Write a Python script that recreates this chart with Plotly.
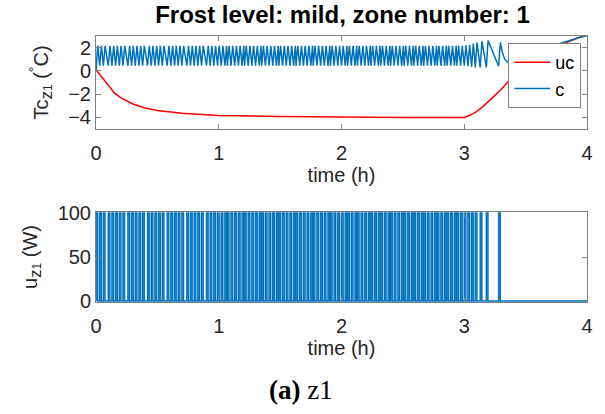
import plotly.graph_objects as go

# ---------------- data ----------------
# heater switch-on times (h) of controlled zone
pulse_on = [0.00, 0.03, 0.06, 0.10, 0.13, 0.16, 0.19, 0.22, 0.26, 0.29, 0.32, 0.35, 0.38, 0.42, 0.45, 0.48,
            0.51, 0.54, 0.58, 0.61, 0.64, 0.67, 0.70, 0.74, 0.77, 0.80, 0.83, 0.86, 0.90, 0.93, 0.96, 0.99,
            1.02, 1.05, 1.07, 1.10, 1.13, 1.16, 1.19, 1.21, 1.24, 1.27, 1.30, 1.33, 1.35, 1.38, 1.41, 1.44,
            1.47, 1.49, 1.52, 1.55, 1.58, 1.61, 1.63, 1.66, 1.69, 1.72, 1.75, 1.77, 1.80, 1.83, 1.86, 1.89,
            1.91, 1.94, 1.97, 2.00, 2.03, 2.05, 2.08, 2.11, 2.13, 2.16, 2.19, 2.22, 2.24, 2.27, 2.30, 2.32,
            2.35, 2.38, 2.40, 2.43, 2.46, 2.49, 2.51, 2.54, 2.57, 2.59, 2.62, 2.65, 2.67, 2.70, 2.73, 2.76,
            2.78, 2.81, 2.84, 2.86, 2.89, 2.92, 2.94, 2.97, 3.00, 3.03, 3.06, 3.09, 3.13, 3.18, 3.28]
pulse_width = 0.013          # h, heater on-time per pulse
u_on = 100                   # W

# controlled temperature: trough at each switch-on, peak shortly after
c_rise = 0.014
c_trough = [0.0] + [0.45] * 103 + [0.45, 0.40, 0.35, 0.30, 0.30, 0.30, 0.40]
c_peak = [2.2] + [2.15] * 103 + [2.20, 2.25, 2.35, 2.45, 2.55, 2.60, 2.45]
c_tail_t = [3.31, 3.33, 3.36, 3.40, 3.45, 3.55, 3.65, 3.75, 3.85, 3.93, 4.00]
c_tail_v = [1.60, 1.00, 0.70, 0.60, 0.80, 1.35, 1.85, 2.25, 2.60, 2.85, 3.05]

# uncontrolled temperature
uc_t = [0, 0.05, 0.1, 0.15, 0.2, 0.3, 0.4, 0.5, 0.7, 1.0, 1.5, 2.0, 2.5, 3.0,
        3.05, 3.1, 3.15, 3.2, 3.25, 3.3, 3.36, 3.45, 3.55, 3.65, 3.75, 3.85, 3.93, 4.0]
uc_v = [0.1, -0.6, -1.3, -1.9, -2.3, -2.85, -3.2, -3.4, -3.65, -3.83, -3.93, -3.98, -4.0, -4.0,
        -3.8, -3.5, -3.1, -2.6, -2.1, -1.6, -0.9, 0.0, 0.8, 1.5, 2.1, 2.55, 2.85, 3.05]

x_ticks = [0, 1, 2, 3, 4]
title_text = "Frost level: mild, zone number: 1"

# ---------------- build traces ----------------
c_x, c_y = [], []
for t, lo, hi in zip(pulse_on, c_trough, c_peak):
    c_x += [t, t + c_rise]
    c_y += [lo, hi]
c_x += c_tail_t
c_y += c_tail_v

u_x, u_y = [], []
for t in pulse_on:
    u_x += [t, t, t + pulse_width, t + pulse_width]
    u_y += [0, u_on, u_on, 0]
u_x += [4]
u_y += [0]

RED = "#FF0000"
BLUE = "#0072BD"
FONT = "Liberation Sans, Arial, sans-serif"
AX = "#808080"
TXT = "#262626"
FS = 20

fig = go.Figure()
fig.add_trace(go.Scatter(x=uc_t, y=uc_v, mode="lines", name="uc",
                         line=dict(color=RED, width=1.5), xaxis="x", yaxis="y"))
fig.add_trace(go.Scatter(x=c_x, y=c_y, mode="lines", name="c",
                         line=dict(color=BLUE, width=1.5), xaxis="x", yaxis="y"))
fig.add_trace(go.Scatter(x=u_x, y=u_y, mode="lines", name="u", showlegend=False,
                         line=dict(color=BLUE, width=1.5), xaxis="x2", yaxis="y2"))

W, H = 605, 414
L, R, T, B = 96, 16, 36, 112
ph = H - T - B
pw = W - L - R
top_dom = [(302 - 129) / ph, 1.0]
bot_dom = [0.0, (302 - 212) / ph]

axis_common = dict(showline=True, linecolor=AX, linewidth=1, mirror="ticks",
                   ticks="inside", ticklen=5, tickcolor=AX, showgrid=False, zeroline=False,
                   tickfont=dict(family=FONT, size=FS, color=TXT))

SUBZ = "<sub><span style='font-size:17px'>z</span><span style='font-size:12px'>1</span></sub>"

fig.update_layout(
    width=W, height=H,
    margin=dict(l=L, r=R, t=T, b=B),
    paper_bgcolor="white", plot_bgcolor="white",
    showlegend=True,
    title=dict(text="<b>" + title_text + "</b>", x=(96 + 589) / 2 / W, xanchor="center",
               y=1 - 15 / H, yanchor="middle", font=dict(family=FONT, size=24, color="#000000")),
    xaxis=dict(domain=[0, 1], range=[0, 4], tickvals=x_ticks, anchor="y", ticklabelstandoff=6,
               title=dict(text="time (h)", font=dict(family=FONT, size=FS, color=TXT), standoff=2),
               **axis_common),
    yaxis=dict(domain=top_dom, range=[-5, 3], tickvals=[-4, -2, 0, 2], anchor="x",
               title=dict(text="Tc" + SUBZ + " (<sup>°</sup>C)",
                          font=dict(family=FONT, size=FS, color=TXT), standoff=14),
               **axis_common),
    xaxis2=dict(domain=[0, 1], range=[0, 4], tickvals=x_ticks, anchor="y2", ticklabelstandoff=6,
                title=dict(text="time (h)", font=dict(family=FONT, size=FS, color=TXT), standoff=2),
                **axis_common),
    yaxis2=dict(domain=bot_dom, range=[-1, 101], tickvals=[0, 50, 100], anchor="x2",
                title=dict(text="u" + SUBZ + " (W)",
                           font=dict(family=FONT, size=FS, color=TXT), standoff=14),
                **axis_common),
    legend=dict(x=(510 - L) / pw, y=(302 - 43) / ph, xanchor="left", yanchor="top",
                bgcolor="white", bordercolor=AX, borderwidth=1,
                font=dict(family=FONT, size=18, color="#000000"),
                itemwidth=36, tracegroupgap=0),
    annotations=[dict(text="<b>(a)</b> z1", x=(302 - L) / pw, xref="paper", xanchor="center",
                      y=(302 - 390) / ph, yref="paper", yanchor="middle", showarrow=False,
                      font=dict(family="Liberation Serif, Times New Roman, serif", size=27,
                                color="#000000"))],
)

fig.write_html("out.html")
